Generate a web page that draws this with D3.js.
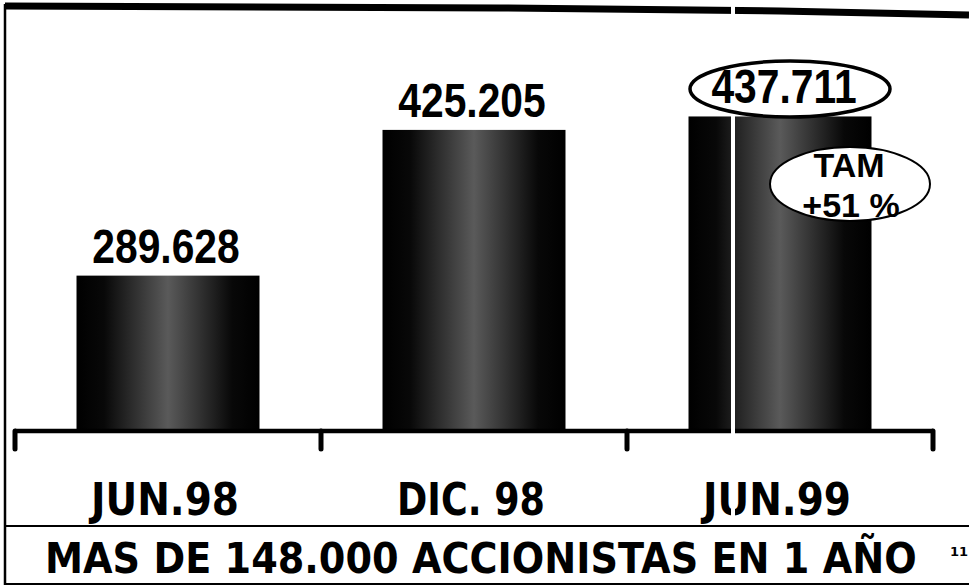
<html>
<style>body { margin: 0; } svg { display: block; }</style>
<svg width="969" height="588" style="background: white"></svg>

<script src="https://cdn.jsdelivr.net/npm/d3@7/dist/d3.min.js"></script>
<script type="text/javascript">
let svg = d3.select("svg");

// data
const periods = ["JUN.98", "DIC. 98", "JUN.99"];
const shareholders = [289628, 425205, 437711];
const value_labels = ["289.628", "425.205", "437.711"];
const growth_note = ["TAM", "+51 %"];
const headline = "MAS DE 148.000 ACCIONISTAS EN 1 AÑO";

const ink = "#000";

let x = d3.scaleBand().domain(periods).range([15, 933]).paddingInner(0.402).paddingOuter(0.201);
let y = d3.scaleLinear().domain([146000, 440000]).range([430, 114]);

// squeeze a text horizontally so it spans w pixels, anchored at (tx, ty)
function squeeze(sel, tx, ty, w) {
  sel.attr("transform", "translate(" + tx + "," + ty + ")");
  let natural = sel.node().getComputedTextLength();
  sel.attr("transform", "translate(" + tx + "," + ty + ") scale(" + (w / natural) + ",1)");
  return sel;
}

// fake the dithered grey of the scanned bars
let defs = svg.append("defs");
let grad = defs.append("linearGradient").attr("id", "bar_fill");
[[0, "#000"], [0.15, "#080808"], [0.5, "#5a5a5a"], [0.85, "#080808"], [1, "#000"]].forEach(s => {
  grad.append("stop").attr("offset", s[0]).attr("stop-color", s[1]);
});

// frame of the slide
svg.append("path").attr("d", "M5,6 L500,8 L780,11 L969,15")
  .attr("stroke", ink).attr("stroke-width", 7).attr("fill", "none");
svg.append("line").attr("x1", 5).attr("x2", 5).attr("y1", 4).attr("y2", 585)
  .attr("stroke", ink).attr("stroke-width", 2.5);
svg.append("line").attr("x1", 5).attr("x2", 969).attr("y1", 526).attr("y2", 526)
  .attr("stroke", ink).attr("stroke-width", 2);
svg.append("line").attr("x1", 5).attr("x2", 969).attr("y1", 584).attr("y2", 584)
  .attr("stroke", ink).attr("stroke-width", 2);

// bars
let bars_g = svg.append("g");
bars_g.selectAll("rect").data(periods).join("rect")
  .attr("x", d => x(d))
  .attr("width", x.bandwidth())
  .attr("y", (d, i) => y(shareholders[i]))
  .attr("height", (d, i) => y.range()[0] - y(shareholders[i]))
  .attr("fill", "url(#bar_fill)");

// axis baseline and the band-edge ticks
let axis_y = y.range()[0] + 1;
svg.append("line").attr("x1", x.range()[0]).attr("x2", x.range()[1])
  .attr("y1", axis_y).attr("y2", axis_y).attr("stroke", ink).attr("stroke-width", 4.5);
let tick_xs = d3.range(periods.length + 1).map(i => x.range()[0] + i * x.step());
svg.selectAll(".tick").data(tick_xs).join("line").attr("class", "tick")
  .attr("x1", d => d).attr("x2", d => d)
  .attr("y1", axis_y).attr("y2", axis_y + 18)
  .attr("stroke", ink).attr("stroke-width", 5).attr("stroke-linecap", "round");

// category labels
svg.selectAll(".cat").data(periods).join("text").attr("class", "cat")
  .attr("text-anchor", "middle")
  .attr("font-family", "DejaVu Sans, Verdana, sans-serif")
  .attr("font-weight", "bold").attr("font-size", 45)
  .attr("fill", ink)
  .text(d => d)
  .each(function(d) { squeeze(d3.select(this), x(d) + x.bandwidth() / 2 - 3, 515, 148); });

// scanner streak down the right bar
svg.append("line").attr("x1", 733).attr("x2", 733).attr("y1", 0).attr("y2", 522)
  .attr("stroke", "white").attr("stroke-width", 4);

// highlight ellipse behind the last value
let last = periods[periods.length - 1];
svg.append("ellipse").attr("cx", x(last) + x.bandwidth() / 2 + 10).attr("cy", 89)
  .attr("rx", 100).attr("ry", 28)
  .attr("fill", "white").attr("stroke", ink).attr("stroke-width", 3.5);

// value labels
svg.selectAll(".val").data(periods).join("text").attr("class", "val")
  .attr("transform", (d, i) => {
    let cx = x(d) + x.bandwidth() / 2 + (i == 2 ? 4 : -2);
    return "translate(" + cx + "," + (y(shareholders[i]) - 13) + ") scale(0.85,1)";
  })
  .attr("text-anchor", "middle")
  .attr("font-family", "Liberation Sans, Arial, sans-serif")
  .attr("font-weight", "bold").attr("font-size", 48)
  .attr("fill", ink)
  .text((d, i) => value_labels[i]);

// TAM bubble
svg.append("ellipse").attr("cx", 850).attr("cy", 184).attr("rx", 80).attr("ry", 37)
  .attr("fill", "white").attr("stroke", ink).attr("stroke-width", 2);
svg.selectAll(".tam").data(growth_note).join("text").attr("class", "tam")
  .attr("x", (d, i) => i == 0 ? 849 : 851)
  .attr("y", (d, i) => 177 + i * 40)
  .attr("text-anchor", "middle")
  .attr("font-family", "Liberation Sans, Arial, sans-serif")
  .attr("font-weight", "bold").attr("font-size", 34)
  .attr("fill", ink)
  .text(d => d);

// headline
let head = svg.append("text")
  .attr("font-family", "DejaVu Sans, Verdana, sans-serif")
  .attr("font-weight", "bold").attr("font-size", 43)
  .attr("fill", ink)
  .text(headline);
squeeze(head, 45, 573, 872);
svg.append("text").attr("x", 950).attr("y", 556)
  .attr("font-family", "DejaVu Sans, Verdana, sans-serif")
  .attr("font-weight", "bold").attr("font-size", 13)
  .attr("fill", ink)
  .text("11");
</script>

</html>
